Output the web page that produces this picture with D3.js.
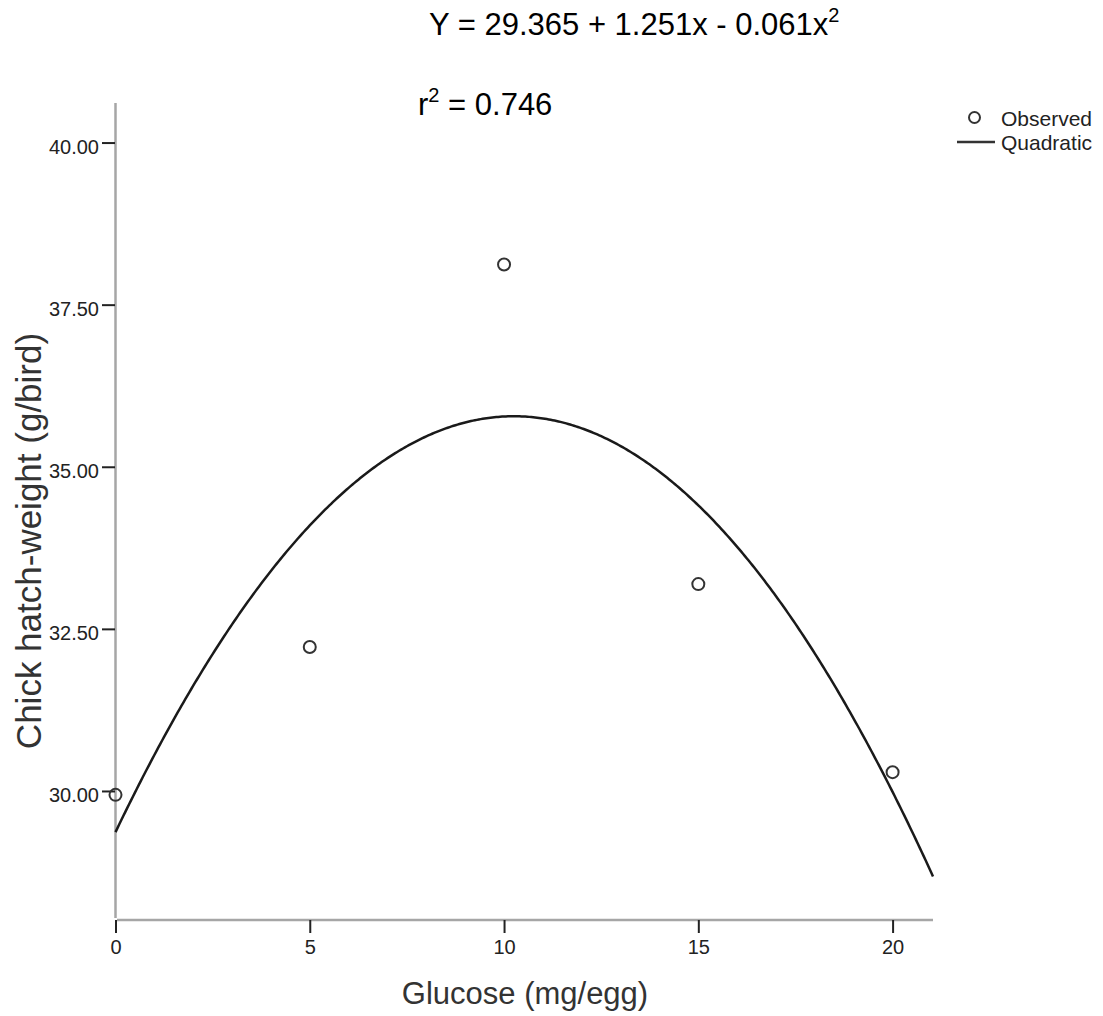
<!DOCTYPE html>
<html>
<head>
<meta charset="utf-8">
<script src="https://d3js.org/d3.v7.min.js"></script>
<style>
body { margin: 0; background: #fff; }
text { font-family: "Liberation Sans", Arial, sans-serif; }
</style>
</head>
<body>
<svg id="chart" width="1103" height="1016"></svg>
<script>
// observed means
var glucose = [0, 5, 10, 15, 20];
var hatchWeight = [29.94, 32.22, 38.12, 33.19, 30.29];
// quadratic fit Y = b0 + b1 x + b2 x^2
var coef = [29.365, 1.251, -0.061];
var xTicks = [0, 5, 10, 15, 20];
var yTicks = [30, 32.5, 35, 37.5, 40];

var svg = d3.select("#chart");

var x = d3.scaleLinear().domain([0, 21.04]).range([115.5, 933]);
var y = d3.scaleLinear().domain([28.01, 40.61]).range([920, 103]);

// axis lines (grey)
svg.append("line")
    .attr("x1", x(0)).attr("x2", x(0))
    .attr("y1", y.range()[1]).attr("y2", 918)
    .attr("stroke", "#a6a6a6").attr("stroke-width", 2.5);
svg.append("line")
    .attr("x1", 117).attr("x2", x.range()[1])
    .attr("y1", 920).attr("y2", 920)
    .attr("stroke", "#a6a6a6").attr("stroke-width", 2.5);

// y ticks
var yAxis = svg.append("g")
    .attr("transform", "translate(" + (x(0) - 0.5) + ",0)")
    .call(d3.axisLeft(y).tickValues(yTicks).tickFormat(d3.format(".2f")).tickSize(13).tickPadding(3));
yAxis.select(".domain").remove();
yAxis.selectAll(".tick line").attr("stroke", "#222").attr("stroke-width", 2);
yAxis.selectAll(".tick text")
    .attr("font-size", 20).attr("fill", "#222")
    .attr("font-family", "Liberation Sans, Arial, sans-serif")
    .attr("dy", null).attr("y", 11);

// x ticks
var xAxis = svg.append("g")
    .attr("transform", "translate(0,920)")
    .call(d3.axisBottom(x).tickValues(xTicks).tickFormat(d3.format("d")).tickSize(13).tickPadding(7));
xAxis.select(".domain").remove();
xAxis.selectAll(".tick line").attr("stroke", "#222").attr("stroke-width", 2);
xAxis.selectAll(".tick text")
    .attr("font-size", 20).attr("fill", "#222")
    .attr("font-family", "Liberation Sans, Arial, sans-serif");

// fitted curve
var fitX = d3.range(0, 21.04, 0.05).concat([21.04]);
var line = d3.line()
    .x(function(d) { return x(d); })
    .y(function(d) { return y(coef[0] + coef[1] * d + coef[2] * d * d); });
svg.append("path")
    .datum(fitX)
    .attr("d", line)
    .attr("fill", "none")
    .attr("stroke", "#1a1a1a")
    .attr("stroke-width", 2.5);

// observed points
svg.selectAll(".obs")
    .data(glucose)
    .enter().append("circle")
    .attr("class", "obs")
    .attr("cx", function(d) { return x(d); })
    .attr("cy", function(d, i) { return y(hatchWeight[i]); })
    .attr("r", 6)
    .attr("fill", "none")
    .attr("stroke", "#333")
    .attr("stroke-width", 2);

// axis titles
svg.append("text")
    .attr("x", 525).attr("y", 1004)
    .attr("text-anchor", "middle")
    .attr("font-size", 31).attr("fill", "#333")
    .text("Glucose (mg/egg)");
svg.append("text")
    .attr("transform", "translate(41,541) rotate(-90)")
    .attr("text-anchor", "middle")
    .attr("font-size", 35).attr("fill", "#333")
    .text("Chick hatch-weight (g/bird)");

// equation
var eq = svg.append("text")
    .attr("x", 429).attr("y", 35)
    .attr("font-size", 31).attr("fill", "#000");
eq.append("tspan").text("Y = " + coef[0] + " + " + coef[1] + "x - " + Math.abs(coef[2]) + "x");
eq.append("tspan").attr("dy", -13).attr("font-size", 20).text("2");

var r2 = svg.append("text")
    .attr("x", 418).attr("y", 115)
    .attr("font-size", 31).attr("fill", "#000");
r2.append("tspan").text("r");
r2.append("tspan").attr("dy", -13).attr("font-size", 20).text("2");
r2.append("tspan").attr("dy", 13).text(" = 0.746");

// legend
var lg = svg.append("g");
lg.append("circle")
    .attr("cx", 974.5).attr("cy", 117.5).attr("r", 5.5)
    .attr("fill", "none").attr("stroke", "#333").attr("stroke-width", 2);
lg.append("line")
    .attr("x1", 957).attr("x2", 995).attr("y1", 142).attr("y2", 142)
    .attr("stroke", "#333").attr("stroke-width", 2.5);
lg.append("text").attr("x", 1001).attr("y", 126)
    .attr("font-size", 21).attr("fill", "#222").text("Observed");
lg.append("text").attr("x", 1001).attr("y", 150)
    .attr("font-size", 21).attr("fill", "#222").text("Quadratic");
</script>
</body>
</html>
